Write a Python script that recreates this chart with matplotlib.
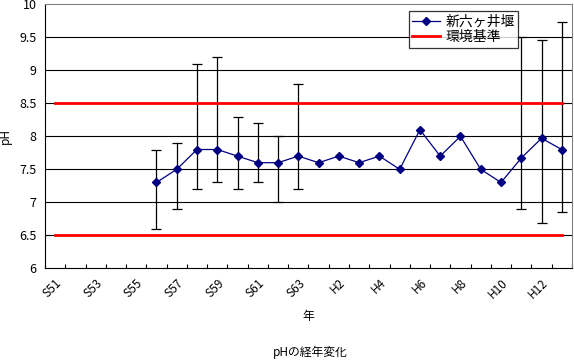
import numpy as np
import matplotlib.pyplot as plt

plt.rcParams['font.family'] = ['Noto Sans CJK JP', 'DejaVu Sans']

# categories: S51..S63, H1..H13
years = ['S%d' % y for y in range(51, 64)] + ['H%d' % y for y in range(1, 14)]
nan = np.nan
# mean pH at 新六ヶ井堰
ph = [nan, nan, nan, nan, nan,
      7.3, 7.5, 7.8, 7.8, 7.7, 7.6, 7.6, 7.7,
      7.6, 7.7, 7.6, 7.7, 7.5, 8.1, 7.7, 8.0, 7.5, 7.3, 7.67, 7.97, 7.8]
# max / min of each year (error bars)
ph_max = [nan, nan, nan, nan, nan,
          7.8, 7.9, 9.1, 9.2, 8.3, 8.2, 8.0, 8.8,
          nan, nan, nan, nan, nan, nan, nan, nan, nan, nan, 9.5, 9.46, 9.73]
ph_min = [nan, nan, nan, nan, nan,
          6.6, 6.9, 7.2, 7.3, 7.2, 7.3, 7.0, 7.2,
          nan, nan, nan, nan, nan, nan, nan, nan, nan, nan, 6.9, 6.68, 6.85]
std_upper = 8.5
std_lower = 6.5

x = np.arange(len(years))
ph = np.array(ph)
err_low = ph - np.array(ph_min)
err_up = np.array(ph_max) - ph

fig = plt.figure(figsize=(5.74, 3.63), dpi=100)
ax = fig.add_axes([0.0784, 0.261, 0.918, 0.727])

ax.set_ylim(6, 10)
ax.set_xlim(-0.5, len(years) - 0.5)
for v in np.arange(6.5, 10.0, 0.5):
    ax.axhline(v, color='black', lw=0.8, zorder=1)

ax.errorbar(x, ph, yerr=[err_low, err_up], fmt='none', ecolor='black',
            elinewidth=0.9, capsize=3.5, capthick=0.9, zorder=2)
ax.plot(x[5:], ph[5:], color='#000080', lw=0.9, marker='D', markersize=4,
        label='新六ヶ井堰', zorder=3)
ax.plot(x, [std_upper] * len(x), color='#ff0000', lw=2, label='環境基準', zorder=2)
ax.plot(x, [std_lower] * len(x), color='#ff0000', lw=2, zorder=2)

ax.set_yticks(np.arange(6, 10.01, 0.5))
ax.set_yticklabels(['6', '6.5', '7', '7.5', '8', '8.5', '9', '9.5', '10'], fontsize=9)
ax.tick_params(axis='y', length=0, pad=6)

ax.set_xticks(np.arange(-0.5, len(years), 1.0), minor=True)
ax.tick_params(axis='x', which='minor', direction='in', length=3, width=0.8)
ax.set_xticks(x[::2])
ax.set_xticklabels(years[::2], rotation=45, ha='right', va='top',
                   rotation_mode='anchor', fontsize=8.5)
ax.tick_params(axis='x', which='major', length=0, pad=6)

for s in ['top', 'right']:
    ax.spines[s].set_color('#808080')
ax.spines['left'].set_color('black')
ax.spines['bottom'].set_color('black')

ax.set_ylabel('pH', fontsize=8.5)
ax.yaxis.set_label_coords(-0.062, 0.5)
ax.set_xlabel('年', fontsize=8.5, labelpad=6)
fig.text(0.54, 0.02, 'pHの経年変化', fontsize=8.5, ha='center')

leg = ax.legend(loc='upper right', bbox_to_anchor=(0.898, 0.973), fontsize=10,
                frameon=True, fancybox=False, edgecolor='black',
                borderpad=0.25, handlelength=2, handletextpad=0.4,
                labelspacing=0.1, borderaxespad=0)
leg.get_frame().set_linewidth(0.9)

fig.savefig('out.png', dpi=100)
